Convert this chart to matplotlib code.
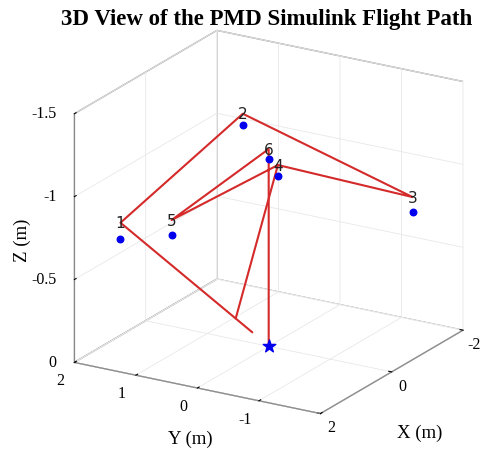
import numpy as np
import matplotlib.pyplot as plt

# waypoints (blue dots), NED frame in metres
wp_x = [1.0, -1.0, -1.0, 0.0, 1.0, 0.0]
wp_y = [1.83, 1.0, -1.76, -0.15, 1.0, 0.0]
wp_z = [-0.63, -1.13, -0.82, -1.04, -0.72, -1.13]
wp_names = ['1', '2', '3', '4', '5', '6']

# simulated flight path (red), ends with landing at home
path_x = [-0.38, 1.0, -1.0, -1.0, 0.0, 1.0, 0.0, 0.0]
path_y = [0.49, 1.83, 1.0, -1.76, -0.15, 1.0, 0.0, 0.0]
path_z = [0.0, -0.73, -1.20, -0.91, -1.105, -0.81, -1.19, 0.0]

# climb leg
climb_x = [-0.75, 0.0]
climb_y = [0.97, -0.15]
climb_z = [0.0, -1.105]

home_x, home_y, home_z = [0.0], [0.0], [0.0]

x_ticks = [-2, 0, 2]
x_tick_labels = ['-2', '0', '2']
y_ticks = [-2, -1, 0, 1, 2]
y_tick_labels = ['', '-1', '0', '1', '2']
z_ticks = [-1.5, -1, -0.5, 0]
z_tick_labels = ['-1.5', '-1', '-0.5', '0']

plt.rcParams['grid.color'] = '#e8e8e8'
plt.rcParams['grid.linewidth'] = 0.6
serif = 'Liberation Serif'
tick_fs = 11.5

fig = plt.figure(figsize=(4.86, 4.52), dpi=100)
ax = fig.add_axes([0.0753, -0.0068, 0.93, 1.0], projection='3d')
ax.set_proj_type('ortho')
ax.view_init(elev=20.4, azim=-149.2)
ax.set_box_aspect((277, 285, 264), zoom=1.03)

ax.plot(path_x, path_y, path_z, color='#d42a2a', lw=1.5)
ax.plot(climb_x, climb_y, climb_z, color='#d42a2a', lw=1.5)
ax.scatter(wp_x, wp_y, wp_z, color='#0000ee', s=22, depthshade=False)
ax.scatter(home_x, home_y, home_z, color='#0000ee', marker='*', s=90, depthshade=False)
for i, name in enumerate(wp_names):
    ax.text(path_x[i + 1], path_y[i + 1], path_z[i + 1], name,
            ha='center', va='center', fontsize=11, color='#222222',
            family='DejaVu Sans')

ax.set_xlim(2, -2)
ax.set_ylim(-2, 2)
ax.set_zlim(0, -1.5)
ax.set_xticks(x_ticks)
ax.set_yticks(y_ticks)
ax.set_zticks(z_ticks)

# tick labels placed just outside the box edges, MATLAB style
for v, s in zip(x_ticks, x_tick_labels):
    ax.text(v, -2.18, 0.07, s, ha='center', va='center', fontsize=tick_fs, family=serif)
for v, s in zip(y_ticks, y_tick_labels):
    if s:
        ax.text(2.39, v, 0.058, s, ha='center', va='center', fontsize=tick_fs, family=serif)
for v, s in zip(z_ticks, z_tick_labels):
    ax.text(2, 2.29, v + 0.02, s, ha='right', va='center', fontsize=tick_fs, family=serif)

for axis in (ax.xaxis, ax.yaxis, ax.zaxis):
    axis.set_tick_params(labelbottom=False)
    axis.label.set_visible(False)
    axis.get_offset_text().set_visible(False)
    axis.set_pane_color((1, 1, 1, 1))
    axis.pane.set_edgecolor('#9a9a9a')
    axis.line.set_color('#8a8a8a')
    axis._axinfo['tick']['inward_factor'] = 0.0
    axis._axinfo['tick']['outward_factor'] = 0.15
    axis._axinfo['tick']['color'] = '#8a8a8a'

# axis labels stay horizontal like the original
fig.text(0.864, 0.042, 'X (m)', ha='center', va='center', fontsize=13.5, family=serif)
fig.text(0.391, 0.027, 'Y (m)', ha='center', va='center', fontsize=13.5, family=serif)
fig.text(0.045, 0.469, 'Z (m)', ha='center', va='center', rotation=90, fontsize=13.5, family=serif)

fig.text(0.548, 0.98, '3D View of the PMD Simulink Flight Path',
         ha='center', va='top', fontsize=16.5, fontweight='bold', family=serif)

fig.savefig('out.png', dpi=100)
